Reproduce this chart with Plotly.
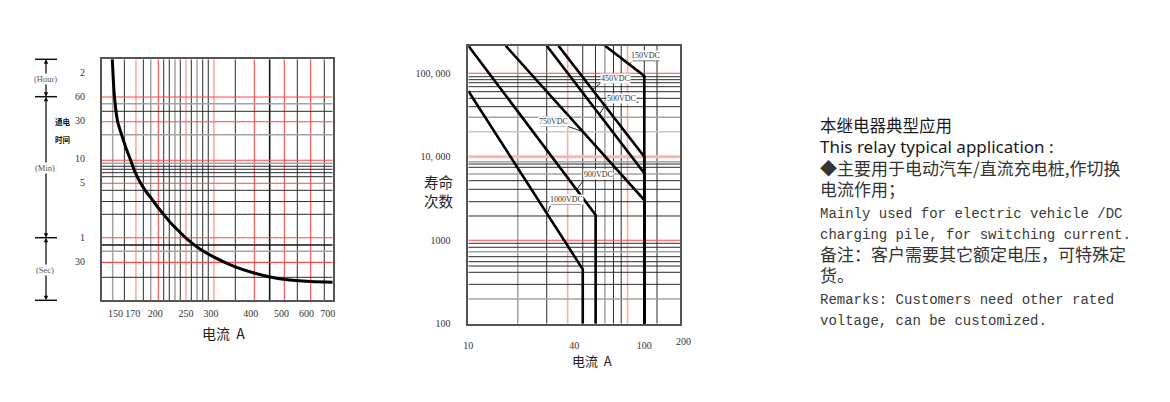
import plotly.graph_objects as go

# The page body has an 8px margin: the figure is drawn 8px in from the window corner.
OX, OY = 8, 8
FW, FH = 1154, 386

# ---------------- Left chart: 通电时间 (s) vs 电流 (A) ----------------
current_A = [146.6, 148.9, 152.4, 156.9, 161.9, 167.3, 172.8, 179.2, 185.8, 194.1, 203.4,
             213.3, 224.4, 237.8, 253.8, 276.9, 306.5, 354.3, 409.7, 460.1, 512.9, 617.2, 724.9]
time_s = [10690, 3573, 1743, 1183, 811, 572, 404, 302, 239, 190, 147,
          116, 91, 72, 56, 43, 34, 26, 21.4, 19.1, 17.7, 16.7, 16.4]

left_x_ticks = [150, 170, 200, 250, 300, 400, 500, 600, 700]
left_y_tickvals = [7200, 3600, 1800, 600, 300, 60, 30]
left_y_ticktext = ["2", "60", "30", "10", "5", "1", "30"]

left_vgrid = [147, 160, 174, 183.6, 193.7, 204.6, 212.8, 221.6, 231, 240, 250.1, 260, 271,
              282.4, 294, 306.4, 357.7, 410.6, 459, 510.4, 560.8, 618, 682]
left_vgrid_style = ["gray", "black", "pink", "black", "gray", "red", "black", "black", "gray",
                    "black", "pink", "black", "gray", "black", "black", "pink", "black", "red",
                    "dark", "red", "black", "red", "black"]
left_hgrid = [3573, 2940, 2357, 1743, 1194, 567, 520, 477, 437, 396, 352, 291, 237, 171, 118,
              59.8, 48.4, 40.3, 29.2, 18.9]
left_hgrid_style = ["red", "gray", "black", "red", "gray", "red", "gray", "black", "black",
                    "black", "black", "red", "black", "black", "black", "red", "dark", "gray",
                    "red", "black"]

# ---------------- Right chart: 寿命次数 vs 电流 (A) ----------------
v150_I = [59.8, 100, 100]
v150_N = [214000, 92800, 100]
v450_I = [32.5, 100, 100]
v450_N = [214000, 10000, 100]
v500_I = [27.9, 100, 100]
v500_N = [214000, 6340, 100]
v750_I = [16.3, 100, 100]
v750_N = [214000, 3030, 100]
v900_I = [10, 52.9, 52.9]
v900_N = [214000, 2006, 100]
v1000_I = [10, 44.7, 44.7]
v1000_N = [61370, 448, 100]

right_x_ticks = [10, 40, 100]
right_y_tickvals = [100, 1000, 10000, 100000]
right_y_ticktext = ["100", "1000", "10, 000", "100, 000"]

right_vgrid = [19.1, 27.9, 36.7, 44.7, 52.8, 59.7, 66.8, 73.9, 80.3, 100, 118.1]
right_vgrid_style = ["gray", "black", "pink", "black", "black", "gray", "black", "black",
                     "pink", "black", "black"]
right_hgrid = [100000, 91000, 83800, 77130, 69080, 60170, 50160, 39790, 29710, 19970,
               10000, 8727, 8190, 7478, 6216, 5167, 4075, 2894, 1952,
               1000, 919, 823, 729, 635, 553, 491, 413, 296, 198]
right_hgrid_style = ["red", "black", "black", "black", "black", "black", "black", "black",
                     "gray", "lightgray",
                     "pinkwide", "gray", "black", "black", "gray", "black", "black", "black",
                     "black",
                     "red", "black", "black", "gray", "black", "black", "black", "black",
                     "black", "gray"]

STYLE = {
    "lightgray": ("#c8c8c8", 1.5),
    "gray": ("#a3a3a3", 1.5),
    "pink": ("#ffaaaa", 1.6),
    "pinkwide": ("#ffb4b4", 3),
    "black": ("#2b2b2b", 1),
    "red": ("#ff4848", 1.1),
    "dark": ("#151515", 1.6),
}
ORDER = ["lightgray", "gray", "pink", "pinkwide", "black", "red", "dark"]

L_XR = [2.1327, 2.8603]
L_YR = [0.9861, 4.0290]
R_XR = [1.0, 2.2045]
R_YR = [2.0, 5.3306]

fig = go.Figure()


def add_grid(xa, ya, vals, styles, orient, xr, yr):
    x_ext = [10 ** xr[0], 10 ** xr[1]]
    y_ext = [10 ** yr[0], 10 ** yr[1]]
    for s in ORDER:
        vs = [v for v, st in zip(vals, styles) if st == s]
        if not vs:
            continue
        xs, ys = [], []
        for v in vs:
            if orient == "v":
                xs += [v, v, None]
                ys += [y_ext[0], y_ext[1], None]
            else:
                xs += [x_ext[0], x_ext[1], None]
                ys += [v, v, None]
        c, w = STYLE[s]
        fig.add_trace(go.Scatter(x=xs, y=ys, mode="lines", line=dict(color=c, width=w),
                                 xaxis=xa, yaxis=ya, hoverinfo="skip", showlegend=False))


add_grid("x", "y", left_vgrid, left_vgrid_style, "v", L_XR, L_YR)
add_grid("x", "y", left_hgrid, left_hgrid_style, "h", L_XR, L_YR)
add_grid("x2", "y2", right_vgrid, right_vgrid_style, "v", R_XR, R_YR)
add_grid("x2", "y2", right_hgrid, right_hgrid_style, "h", R_XR, R_YR)

fig.add_trace(go.Scatter(x=current_A, y=time_s, mode="lines",
                         line=dict(color="#000000", width=3, shape="spline", smoothing=0.8),
                         xaxis="x", yaxis="y", hoverinfo="skip", showlegend=False))

for xs, ys in [(v150_I, v150_N), (v450_I, v450_N), (v500_I, v500_N), (v750_I, v750_N),
               (v900_I, v900_N), (v1000_I, v1000_N)]:
    fig.add_trace(go.Scatter(x=xs, y=ys, mode="lines", line=dict(color="#000000", width=2.6),
                             xaxis="x2", yaxis="y2", hoverinfo="skip", showlegend=False))

TICKFONT = dict(family="Liberation Serif", size=10, color="#333333")
axis_common = dict(type="log", showgrid=False, zeroline=False, showline=True, mirror=True,
                   linecolor="#555555", linewidth=1.5, ticks="", tickfont=TICKFONT)


def P(x, y):
    return (x - OX) / FW, 1 - (y - OY) / FH


def xdom(x0, x1):
    return [(x0 - OX) / FW, (x1 - OX) / FW]


def ydom(ytop, ybot):
    return [1 - (ybot - OY) / FH, 1 - (ytop - OY) / FH]


fig.update_layout(
    width=FW, height=FH, margin=dict(l=0, r=0, t=0, b=0, autoexpand=False),
    paper_bgcolor="white", plot_bgcolor="white", showlegend=False,
    xaxis=dict(axis_common, domain=xdom(101.7, 332.7), range=L_XR, anchor="y",
               tickvals=left_x_ticks, ticktext=[str(v) for v in left_x_ticks],
               ticklabelstandoff=3),
    yaxis=dict(axis_common, domain=ydom(59.3, 300.3), range=L_YR, anchor="x",
               tickvals=left_y_tickvals, ticktext=left_y_ticktext, ticklabelstandoff=13),
    xaxis2=dict(axis_common, domain=xdom(468.3, 680.3), range=R_XR, anchor="y2",
                tickvals=right_x_ticks, ticktext=[str(v) for v in right_x_ticks],
                ticklabelstandoff=12),
    yaxis2=dict(axis_common, domain=ydom(45.7, 323.7), range=R_YR, anchor="x2",
                tickvals=right_y_tickvals, ticktext=right_y_ticktext, ticklabelstandoff=14),
)

annotations = []
shapes = []

CJK = "Noto Sans CJK SC"


def text(t, x, y, size, family, color="#222222", xanchor="center", bg=None, **kw):
    px, py_ = P(x, y)
    d = dict(text=t, x=px, y=py_, xref="paper", yref="paper", showarrow=False,
             xanchor=xanchor, yanchor="middle", font=dict(family=family, size=size, color=color))
    if bg:
        d["bgcolor"] = bg
        d["borderpad"] = 0
    d.update(kw)
    annotations.append(d)


# axis titles
text("电流  A", 223, 333, 14, CJK, "#222222")
text("电流  A", 592, 360.5, 13, CJK, "#222222")
text("寿命<br>次数", 439, 190.5, 14.5, CJK, "#222222")
text("200", 683.5, 341, 10, "Liberation Serif", "#333333")
text("<b>通电</b>", 63, 121.7, 7.5, CJK, "#111111")
text("<b>时间</b>", 63, 139.3, 7.5, CJK, "#111111")

# dimension line on the left (Hour / Min / Sec)
dim_x = 46
dim_ticks = [59.3, 96.7, 237.7, 300.3]
dim_sections = [(59.3, 96.7, 78.8, "(Hour)"), (96.7, 237.7, 168, "(Min)"),
                (237.7, 300.3, 270.3, "(Sec)")]
for yy in dim_ticks:
    x0, y0 = P(35, yy)
    x1, _ = P(57, yy)
    shapes.append(dict(type="line", xref="paper", yref="paper", x0=x0, x1=x1, y0=y0, y1=y0,
                       line=dict(color="#111111", width=1.5)))
for top, bot, mid, lab in dim_sections:
    for end in (top, bot):
        ex, ey = P(dim_x, end)
        annotations.append(dict(text="", x=ex, y=ey, xref="paper", yref="paper",
                                showarrow=True, ax=0, ay=mid - end, axref="pixel",
                                ayref="pixel", arrowhead=2, arrowsize=0.7, arrowwidth=1.3,
                                arrowcolor="#111111", standoff=0))
    text(lab, 45, mid, 8.5, "Liberation Serif", "#555555", bg="white")

# voltage labels with leaders (right chart)
vlabels = [
    ("150VDC", 645.5, 55.8, (632.5, 659.5, 60.7), (632.5, 60.7), (629.5, 64.3)),
    ("450VDC", 615.5, 78.6, (601.7, 631.0, 82.3), (601.7, 82.3), (592.7, 89.5)),
    ("500VDC", 621.2, 98.2, (607.3, 638.5, 102.3), (607.3, 102.3), (600.0, 113.3)),
    ("750VDC", 553.7, 121.6, (540.7, 566.7, 126.0), (566.7, 126.0), (583.3, 131.8)),
    ("900VDC", 598.8, 174.0, (585.0, 612.7, 178.3), (585.0, 178.3), (576.7, 189.6)),
    ("1000VDC", 566.0, 199.6, (551.0, 581.0, 204.3), (551.0, 204.3), (546.7, 214.8)),
]
for lab, tx, ty, ul, tail, tip in vlabels:
    text(lab, tx, ty, 8, "Liberation Serif", "#333333", bg="white")
    ux0, uy = P(ul[0], ul[2])
    ux1, _ = P(ul[1], ul[2])
    shapes.append(dict(type="line", xref="paper", yref="paper", x0=ux0, x1=ux1, y0=uy, y1=uy,
                       line=dict(color="#222222", width=1)))
    ex, ey = P(*tip)
    annotations.append(dict(text="", x=ex, y=ey, xref="paper", yref="paper", showarrow=True,
                            ax=tail[0] - tip[0], ay=tail[1] - tip[1], axref="pixel",
                            ayref="pixel", arrowhead=0, arrowwidth=1, arrowcolor="#222222",
                            standoff=0))

# description text block (one multi-line text, 21.45px line pitch)
MONO = "font-family:'Liberation Mono';font-size:14px;color:#3a3a3a"
CJKB = "font-family:'Noto Sans CJK SC';font-size:17px;color:#333333"
LAT = "font-family:'Noto Sans';font-size:17px;color:#1a1a1a"
body_lines = [
    ("本继电器典型应用", "font-family:'Noto Sans CJK SC';font-size:16.5px;color:#1a1a1a"),
    ("This relay typical application :", LAT),
    ("◆主要用于电动汽车/直流充电桩,作切换", CJKB),
    ("电流作用；", CJKB),
    ("Mainly used for electric vehicle /DC", MONO),
    ("charging pile, for switching current.", MONO),
    ("备注：客户需要其它额定电压，可特殊定", CJKB),
    ("货。", CJKB),
    ("Remarks: Customers need other rated", MONO),
    ("voltage, can be customized.", MONO),
]
block = "<br>".join('<span style="%s">%s</span>' % (st, t) for t, st in body_lines)
bx, by = P(818, 221.2)
annotations.append(dict(text=block, x=bx, y=by, xref="paper", yref="paper", showarrow=False,
                        xanchor="left", yanchor="middle", align="left",
                        font=dict(family=CJK, size=16.5, color="#333333")))

fig.update_layout(annotations=annotations, shapes=shapes)
fig.write_html("out.html")
